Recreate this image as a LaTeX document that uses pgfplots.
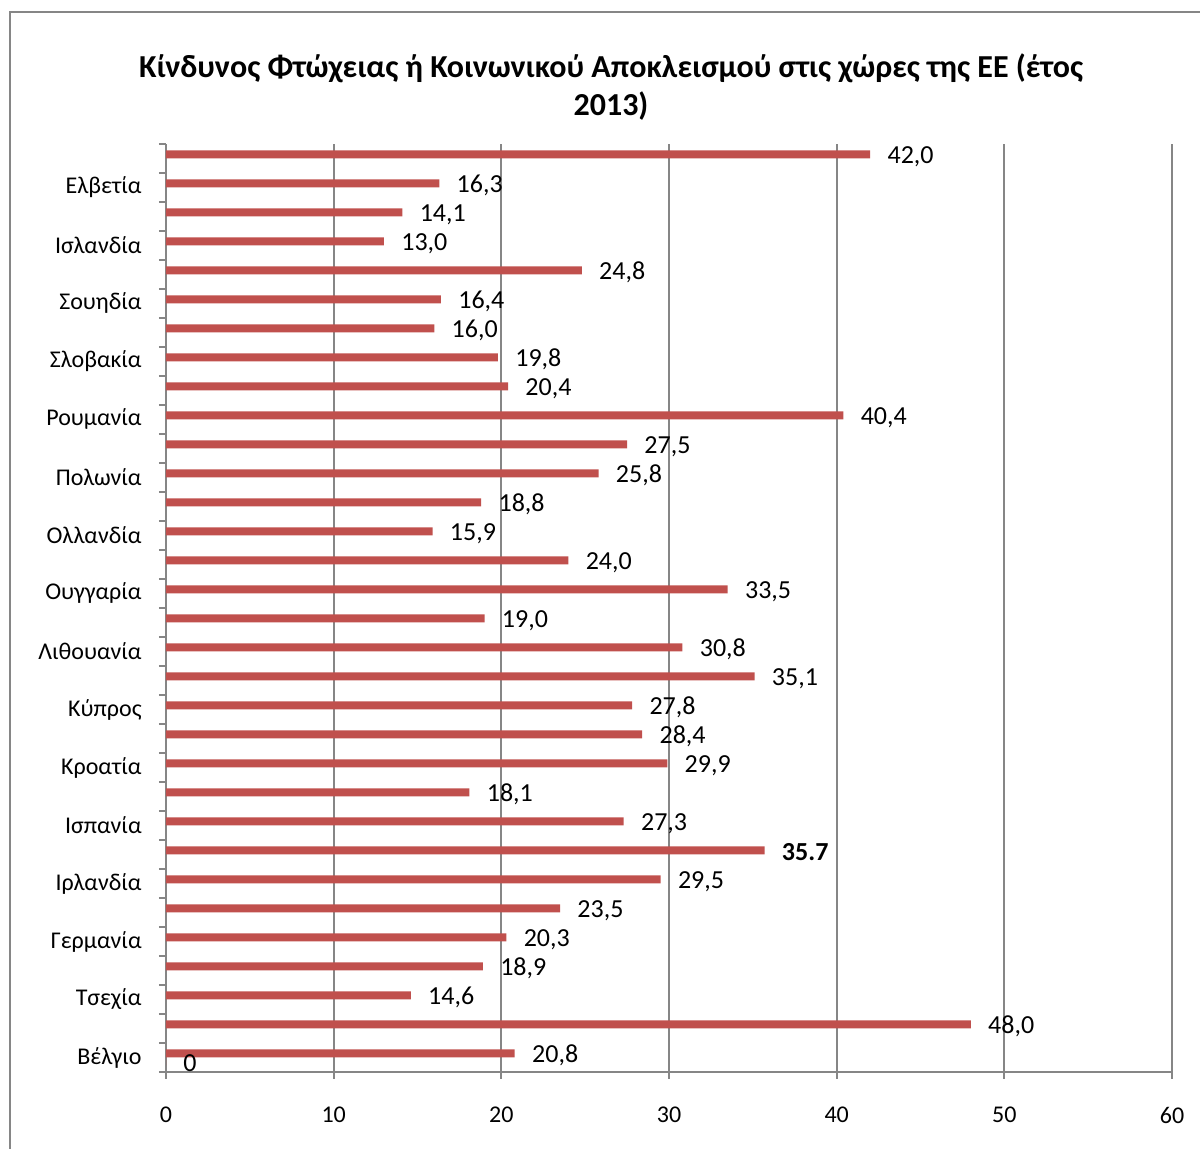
\documentclass[border=0pt]{standalone}
\usepackage{fontspec}
\setmainfont{Carlito}
\usepackage{pgfplots}
\usepackage{pgfplotstable}
\pgfplotsset{compat=1.18}
\definecolor{barred}{HTML}{C0504D}
\definecolor{axgray}{HTML}{868686}

% risk of poverty or social exclusion, 2013 (bottom to top)
\pgfplotstableread{
y x lab
0 20.8 20,8
1 48.0 48,0
2 14.6 14,6
3 18.9 18,9
4 20.3 20,3
5 23.5 23,5
6 29.5 29,5
7 35.7 {\bfseries 35.7}
8 27.3 27,3
9 18.1 18,1
10 29.9 29,9
11 28.4 28,4
12 27.8 27,8
13 35.1 35,1
14 30.8 30,8
15 19.0 19,0
16 33.5 33,5
17 24.0 24,0
18 15.9 15,9
19 18.8 18,8
20 25.8 25,8
21 27.5 27,5
22 40.4 40,4
23 20.4 20,4
24 19.8 19,8
25 16.0 16,0
26 16.4 16,4
27 24.8 24,8
28 13.0 13,0
29 14.1 14,1
30 16.3 16,3
31 42.0 42,0
}\risk

\pgfplotstableread{
y x lab
0 0 0
}\zero

\begin{document}
\begin{tikzpicture}
\begin{axis}[
  at={(0,0)}, anchor=south west,
  scale only axis, width=503pt, height=464pt,
  xbar, bar width=4pt,
  xmin=0, xmax=60, ymin=-0.5, ymax=31.5,
  axis x line*=bottom, axis y line*=left,
  axis line style={axgray, line width=0.9pt},
  every tick/.style={axgray, line width=0.9pt},
  tick align=outside, major tick length=3.5pt,
  xtick={0,10,...,60},
  xmajorgrids, major x grid style={axgray, line width=0.9pt},
  ytick={-0.5,0.5,...,31.5}, yticklabel={\relax},
  extra y ticks={0,2,...,30},
  extra y tick labels={Βέλγιο,Τσεχία,Γερμανία,Ιρλανδία,Ισπανία,Κροατία,Κύπρος,Λιθουανία,Ουγγαρία,Ολλανδία,Πολωνία,Ρουμανία,Σλοβακία,Σουηδία,Ισλανδία,Ελβετία},
  extra y tick style={major tick length=0pt, yticklabel style={inner sep=0pt, xshift=-12pt}},
  /pgf/number format/assume math mode=true,
  tick label style={font=\fontsize{12}{14}\selectfont, black},
  xticklabel style={inner sep=0pt, yshift=-14pt},
  nodes near coords, point meta=explicit symbolic,
  every node near coord/.append style={font=\fontsize{13}{15}\selectfont, black, anchor=west, inner sep=0pt, xshift=8.5pt, yshift=-1pt},
  clip=false,
]
\addplot[fill=barred, draw=none, bar shift=2pt] table[x=x, y=y, meta=lab] {\risk};
\addplot[fill=barred, draw=none, bar shift=-2pt] table[x=x, y=y, meta=lab] {\zero};
\end{axis}
\node[font=\fontsize{16}{19}\selectfont\bfseries, anchor=base] at (222.5pt,497pt) {Κίνδυνος Φτώχειας ή Κοινωνικού Αποκλεισμού στις χώρες της ΕΕ (έτος};
\node[font=\fontsize{16}{19}\selectfont\bfseries, anchor=base] at (222.5pt,478pt) {2013)};
\draw[axgray, line width=1pt] (-78pt,-45pt) -- (-78pt,529.75pt) -- (525pt,529.75pt);
\pgfresetboundingbox
\path (-83pt,-38.5pt) rectangle (517pt,536pt);
\end{tikzpicture}
\end{document}
